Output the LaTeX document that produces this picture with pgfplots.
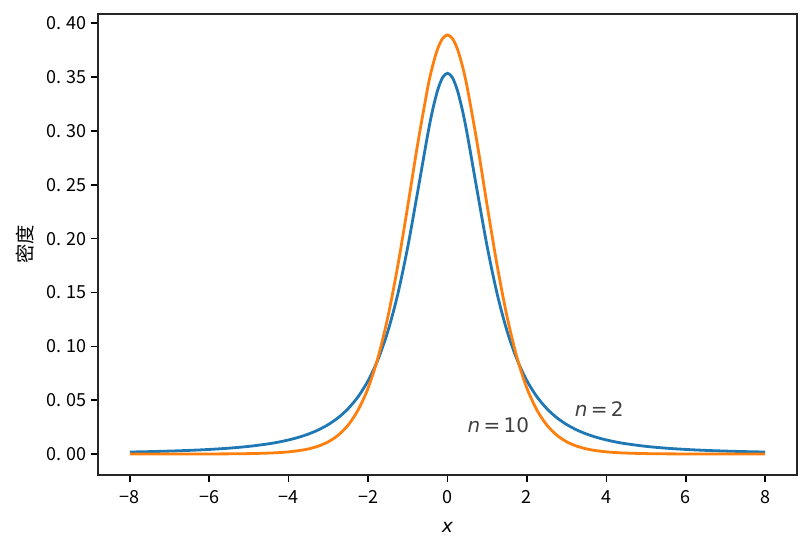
\documentclass[border=0pt]{standalone}
\usepackage{pgfplots}
\pgfplotsset{compat=1.18}
\usepackage{fontspec}
\setmainfont{DejaVu Sans}
\newfontfamily\cjk{Noto Sans CJK SC}
\definecolor{tabblue}{HTML}{1F77B4}
\definecolor{taborange}{HTML}{FF7F0E}
\definecolor{txtgray}{HTML}{404040}
\begin{document}
\begin{tikzpicture}
\begin{axis}[
  scale only axis,
  width=524.25pt, height=345.75pt,
  xmin=-8.8, xmax=8.8, ymin=-0.01946, ymax=0.40857,
  xtick={-8,-6,-4,-2,0,2,4,6,8},
  xticklabels={−8,−6,−4,−2,0,2,4,6,8},
  ytick={0,0.05,0.10,0.15,0.20,0.25,0.30,0.35,0.40},
  yticklabels={0.\hspace{0.25em}00,0.\hspace{0.25em}05,0.\hspace{0.25em}10,0.\hspace{0.25em}15,0.\hspace{0.25em}20,0.\hspace{0.25em}25,0.\hspace{0.25em}30,0.\hspace{0.25em}35,0.\hspace{0.25em}40},
  tick label style={font=\cjk\fontsize{13.5}{15}\selectfont},
  xticklabel style={yshift=-3pt},
  /pgf/number format/assume math mode=true,
  tick align=outside, tick pos=left,
  major tick length=5.25pt,
  every tick/.style={black, line width=1.2pt},
  axis line style={line width=1.2pt, black!85},
  xlabel={\fontsize{14}{16}\selectfont\itshape x},
  ylabel={\cjk\fontsize{14.5}{16}\selectfont 密度},
  xlabel style={yshift=-7pt},
  ylabel style={yshift=3pt},
  clip=false,
]
\addplot[tabblue, line width=2.1pt, smooth] coordinates {
(-8,0.001865)(-7.5,0.002249)(-7,0.002746)(-6.5,0.003397)(-6,0.004269)(-5.5,0.005460)(-5,0.007128)(-4.5,0.009528)(-4.25,0.011128)(-4,0.013095)(-3.75,0.015534)(-3.5,0.018590)(-3.25,0.022459)(-3,0.027410)(-2.75,0.033818)(-2.5,0.042201)(-2.25,0.053279)(-2,0.068041)(-1.75,0.087791)(-1.5,0.114134)(-1.25,0.148719)(-1,0.192450)(-0.75,0.243784)(-0.5,0.296296)(-0.375,0.319293)(-0.25,0.337605)(-0.125,0.349450)(0,0.353553)
(0.125,0.349450)(0.25,0.337605)(0.375,0.319293)(0.5,0.296296)(0.75,0.243784)(1,0.192450)(1.25,0.148719)(1.5,0.114134)(1.75,0.087791)(2,0.068041)(2.25,0.053279)(2.5,0.042201)(2.75,0.033818)(3,0.027410)(3.25,0.022459)(3.5,0.018590)(3.75,0.015534)(4,0.013095)(4.25,0.011128)(4.5,0.009528)(5,0.007128)(5.5,0.005460)(6,0.004269)(6.5,0.003397)(7,0.002746)(7.5,0.002249)(8,0.001865)
};
\addplot[taborange, line width=2.1pt, smooth] coordinates {
(-8,0.0000065)(-7.5,0.0000118)(-7,0.0000224)(-6.5,0.0000437)(-6,0.0000881)(-5.5,0.000184)(-5,0.000396)(-4.5,0.000884)(-4.25,0.001335)(-4,0.002031)(-3.75,0.003110)(-3.5,0.004784)(-3.25,0.007382)(-3,0.011400)(-2.75,0.017575)(-2.5,0.026937)(-2.25,0.040903)(-2,0.061146)(-1.75,0.089532)(-1.5,0.127442)(-1.25,0.175108)(-1,0.230364)(-0.75,0.287977)(-0.5,0.339696)(-0.375,0.360342)(-0.25,0.376000)(-0.125,0.385781)(0,0.389108)
(0.125,0.385781)(0.25,0.376000)(0.375,0.360342)(0.5,0.339696)(0.75,0.287977)(1,0.230364)(1.25,0.175108)(1.5,0.127442)(1.75,0.089532)(2,0.061146)(2.25,0.040903)(2.5,0.026937)(2.75,0.017575)(3,0.011400)(3.25,0.007382)(3.5,0.004784)(3.75,0.003110)(4,0.002031)(4.25,0.001335)(4.5,0.000884)(5,0.000396)(5.5,0.000184)(6,0.0000881)(6.5,0.0000437)(7,0.0000224)(7.5,0.0000118)(8,0.0000065)
};
\node[anchor=base west, inner sep=0pt, text=txtgray, font=\fontsize{15}{17}\selectfont] at (axis cs:0.5,0.02) {\itshape n\,\upshape=\,10};
\node[anchor=base west, inner sep=0pt, text=txtgray, font=\fontsize{15}{17}\selectfont] at (axis cs:3.2,0.035) {\itshape n\,\upshape=\,2};
\end{axis}
\path[use as bounding box] (-73.5pt,-56.25pt) rectangle (534.75pt,356.25pt);
\end{tikzpicture}
\end{document}
